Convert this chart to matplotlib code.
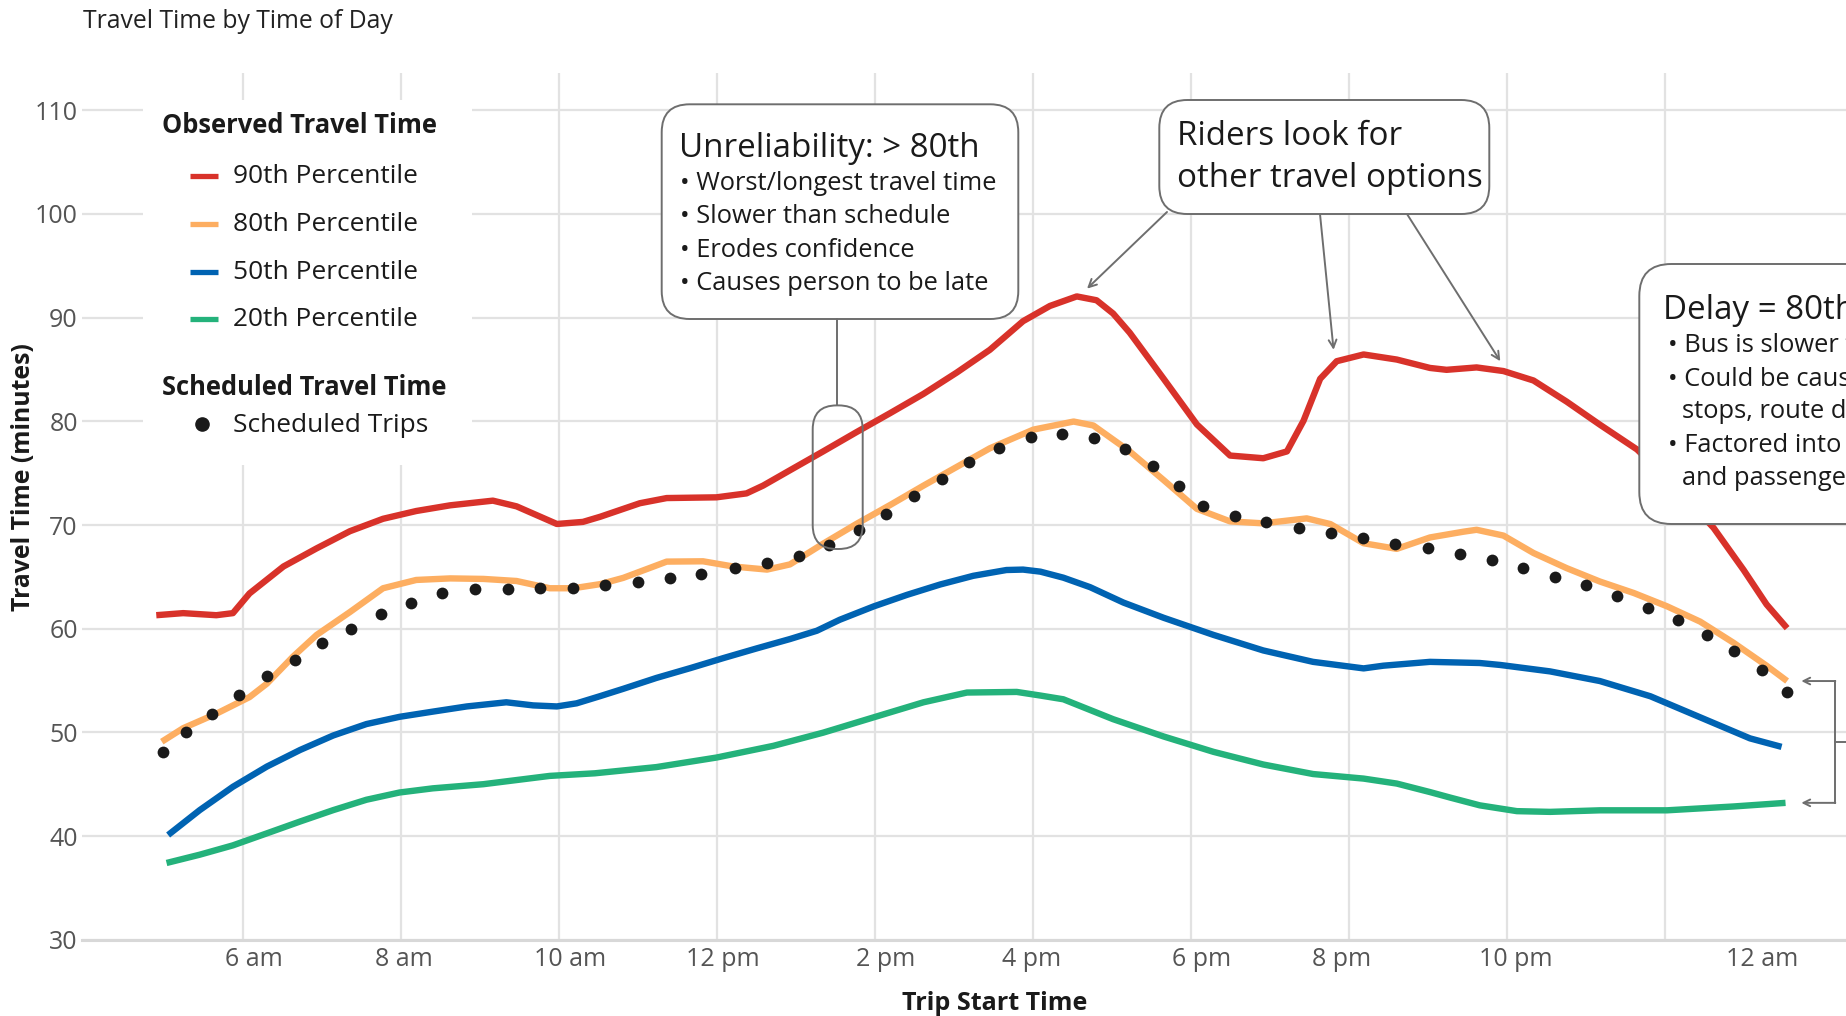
import matplotlib
matplotlib.use('Agg')
import matplotlib.pyplot as plt
from matplotlib.patches import FancyBboxPatch
from matplotlib.lines import Line2D
from matplotlib.transforms import IdentityTransform

plt.rcParams['font.family'] = ['Open Sans', 'DejaVu Sans']

# hours of the day (24 = midnight, 25 = 1 am), travel time in minutes
p90_hours = [4.90, 5.24, 5.66, 5.87, 6.08, 6.51, 6.93, 7.35, 7.77, 8.19, 8.62, 9.16, 9.46,
             9.97, 10.3, 10.52, 11.02, 11.36, 11.99, 12.37, 12.58, 12.92, 13.34, 13.76,
             14.19, 14.61, 15.03, 15.45, 15.87, 16.21, 16.55, 16.8, 17.01, 17.22, 17.65,
             18.07, 18.49, 18.91, 19.21, 19.42, 19.63, 19.84, 20.18, 20.6, 21.02, 21.23,
             21.61, 21.95, 22.33, 22.75, 23.17, 23.64, 24.1, 24.61, 24.99, 25.28, 25.54]
p90_minutes = [61.3, 61.5, 61.3, 61.5, 63.4, 66.0, 67.75, 69.4, 70.6, 71.35, 71.9, 72.35, 71.8,
               70.1, 70.3, 70.8, 72.1, 72.6, 72.67, 73.05, 73.8, 75.28, 77.1, 78.95,
               80.8, 82.65, 84.7, 86.9, 89.66, 91.13, 92.05, 91.68, 90.4, 88.55, 84.1,
               79.7, 76.7, 76.44, 77.1, 80.06, 84.1, 85.8, 86.45, 85.96, 85.15, 84.97,
               85.2, 84.85, 83.94, 81.9, 79.68, 77.29, 73.9, 69.72, 65.66, 62.34, 60.05]

p80_hours = [4.97, 5.24, 5.66, 6.08, 6.3, 6.63, 6.93, 7.35, 7.77, 8.19, 8.62, 9.04, 9.46,
             9.88, 10.18, 10.52, 10.81, 11.36, 11.82, 12.2, 12.63, 12.92, 13.34, 13.76,
             14.19, 14.61, 15.03, 15.45, 16.0, 16.51, 16.76, 17.22, 17.65, 18.07, 18.49,
             18.91, 19.46, 19.76, 20.18, 20.6, 21.02, 21.44, 21.61, 21.95, 22.33, 22.75,
             23.17, 23.6, 24.02, 24.44, 24.86, 25.28, 25.54]
p80_minutes = [49.1, 50.4, 51.8, 53.4, 54.7, 57.3, 59.4, 61.6, 63.9, 64.7, 64.85, 64.8, 64.6,
               63.9, 63.9, 64.3, 64.9, 66.47, 66.5, 66.0, 65.7, 66.2, 68.2, 70.1,
               71.94, 73.8, 75.6, 77.4, 79.2, 79.98, 79.6, 77.1, 74.33, 71.56, 70.35,
               70.16, 70.64, 70.09, 68.24, 67.7, 68.8, 69.35, 69.54, 68.98, 67.3, 65.84,
               64.55, 63.44, 62.16, 60.68, 58.65, 56.43, 54.95]

p50_hours = [5.05, 5.45, 5.87, 6.3, 6.72, 7.14, 7.56, 7.98, 8.4, 8.83, 9.33, 9.67, 9.97,
             10.22, 10.52, 10.81, 11.23, 11.66, 12.08, 12.5, 12.92, 13.26, 13.55, 13.98,
             14.4, 14.82, 15.24, 15.66, 15.87, 16.09, 16.38, 16.72, 17.14, 17.65, 18.28,
             18.91, 19.54, 20.18, 20.43, 21.02, 21.65, 21.91, 22.54, 23.17, 23.81, 24.44,
             25.07, 25.47]
p50_minutes = [40.1, 42.5, 44.75, 46.7, 48.3, 49.7, 50.8, 51.5, 52.0, 52.5, 52.9, 52.6, 52.5,
               52.8, 53.5, 54.2, 55.25, 56.2, 57.17, 58.1, 59.0, 59.8, 60.86, 62.15,
               63.26, 64.26, 65.1, 65.66, 65.7, 65.5, 64.92, 64.0, 62.52, 61.05, 59.4,
               57.9, 56.8, 56.17, 56.43, 56.8, 56.69, 56.5, 55.88, 54.95, 53.48, 51.45,
               49.42, 48.6]

p20_hours = [5.03, 5.45, 5.87, 6.3, 6.72, 7.14, 7.56, 7.98, 8.4, 9.04, 9.46, 9.88, 10.45,
             11.23, 11.99, 12.71, 13.34, 13.98, 14.61, 15.16, 15.79, 16.09, 16.38, 17.01,
             17.65, 18.28, 18.91, 19.54, 20.18, 20.6, 21.02, 21.28, 21.65, 22.12, 22.54,
             23.17, 24.02, 24.86, 25.52]
p20_minutes = [37.4, 38.2, 39.1, 40.26, 41.4, 42.5, 43.5, 44.2, 44.6, 45.0, 45.4, 45.8, 46.05,
               46.65, 47.57, 48.7, 49.97, 51.45, 52.9, 53.84, 53.9, 53.55, 53.19, 51.27,
               49.6, 48.12, 46.9, 45.98, 45.54, 45.06, 44.24, 43.7, 42.96, 42.4, 42.33,
               42.48, 42.48, 42.85, 43.2]

sched_hours = [4.98, 5.27, 5.61, 5.95, 6.3, 6.65, 7.0, 7.37, 7.75, 8.13, 8.52, 8.93, 9.35,
               9.76, 10.17, 10.58, 11.0, 11.4, 11.8, 12.22, 12.63, 13.03, 13.42, 13.79,
               14.14, 14.49, 14.84, 15.19, 15.57, 15.97, 16.36, 16.77, 17.16, 17.51, 17.84,
               18.15, 18.55, 18.95, 19.36, 19.77, 20.17, 20.58, 20.99, 21.4, 21.8, 22.2,
               22.6, 22.99, 23.39, 23.78, 24.16, 24.52, 24.87, 25.22, 25.54]
sched_minutes = [48.1, 50.0, 51.8, 53.6, 55.4, 57.0, 58.6, 60.0, 61.4, 62.5, 63.4, 63.8, 63.8,
                 63.9, 63.95, 64.2, 64.5, 64.9, 65.3, 65.85, 66.3, 67.0, 68.06, 69.5,
                 71.1, 72.8, 74.4, 76.05, 77.45, 78.5, 78.76, 78.39, 77.36, 75.7, 73.78,
                 71.82, 70.9, 70.28, 69.72, 69.24, 68.7, 68.17, 67.76, 67.17, 66.58, 65.84,
                 65.03, 64.18, 63.15, 62.04, 60.79, 59.39, 57.84, 55.99, 53.92]

grid_hours = [6, 8, 10, 12, 14, 16, 18, 20, 22, 24]
label_hours = [6.14, 8.03, 10.14, 12.07, 14.13, 15.98, 18.13, 19.9, 22.11, 25.22]
hour_labels = ['6 am', '8 am', '10 am', '12 pm', '2 pm', '4 pm', '6 pm', '8 pm', '10 pm', '12 am']
y_ticks = [30, 40, 50, 60, 70, 80, 90, 100, 110]

series_names = ['90th Percentile', '80th Percentile', '50th Percentile', '20th Percentile']
series_colors = ['#d8322a', '#fdae61', '#0063b2', '#24b27b']

W, H = 1846, 1016
GRID = '#e2e2e2'
EDGE = '#6e6e6e'
INK = '#1a1a1a'

fig = plt.figure(figsize=(W / 100, H / 100), dpi=100)
# axes run past the right edge of the canvas
ax = fig.add_axes([82 / W, (H - 939.7) / H, (1908 - 82) / W, (939.7 - 73) / H])
ax.set_xlim(3.96, 27.07)
ax.set_ylim(30, 113.6)

ax.set_xticks(label_hours)
ax.set_xticklabels(hour_labels)
ax.set_xticks(grid_hours, minor=True)
ax.set_yticks(y_ticks)
ax.grid(which='minor', axis='x', color=GRID, lw=1.6)
ax.grid(which='major', axis='y', color=GRID, lw=1.6)
ax.tick_params(which='both', length=0, labelsize=18, labelcolor='#555555')
ax.tick_params(axis='x', pad=5)
ax.tick_params(axis='y', pad=3)
for side in ['top', 'right', 'left']:
    ax.spines[side].set_visible(False)
ax.spines['bottom'].set_color('#d8d8d8')
ax.spines['bottom'].set_linewidth(2.2)
ax.set_axisbelow(True)

all_hours = [p90_hours, p80_hours, p50_hours, p20_hours]
all_minutes = [p90_minutes, p80_minutes, p50_minutes, p20_minutes]
for i in [3, 2, 1, 0]:
    z = 4 if i == 0 else 3
    ax.plot(all_hours[i], all_minutes[i], color=series_colors[i], lw=4.6,
            solid_capstyle='butt', solid_joinstyle='round', zorder=z)
ax.scatter(sched_hours, sched_minutes, s=72, color=INK, zorder=3.5, linewidths=0)

fig.text(995 / W, 1 - 1003 / H, 'Trip Start Time', fontsize=18.1, fontweight='bold', color=INK,
         ha='center', va='center')
fig.text(23.5 / W, 1 - 477 / H, 'Travel Time (minutes)', fontsize=17.8, fontweight='bold',
         color=INK, rotation=90, ha='center', va='center')


def put_text(x, y, s, size, weight='normal', color=INK):
    fig.text(x / W, 1 - y / H, s, fontsize=size, fontweight=weight, color=color,
             ha='left', va='baseline', zorder=5)


def rounded_box(x0, y0, x1, y1, radius, fill='white'):
    fig.add_artist(FancyBboxPatch((x0, H - y1), x1 - x0, y1 - y0,
                                  boxstyle=f'round,pad=0,rounding_size={radius}',
                                  transform=IdentityTransform(), facecolor=fill,
                                  edgecolor=EDGE, lw=1.4, zorder=4))


put_text(83, 28.3, 'Travel Time by Time of Day', 17.8, color='#222222')

# legend panel
fig.add_artist(FancyBboxPatch((143, H - 465), 329, 365, boxstyle='square,pad=0',
                              transform=IdentityTransform(), facecolor='white',
                              edgecolor='none', zorder=2))
put_text(161.7, 133.3, 'Observed Travel Time', 18.4, weight='bold')
for i, (name, color) in enumerate(zip(series_names, series_colors)):
    base = 183.3 + i * 47.6
    fig.add_artist(Line2D([190, 218], [H - base + 7, H - base + 7], color=color, lw=3.8,
                          solid_capstyle='butt', transform=IdentityTransform(), zorder=3))
    put_text(232.7, base, name, 18.9)
put_text(161.7, 395, 'Scheduled Travel Time', 18.4, weight='bold')
fig.add_artist(Line2D([201.7], [H - 424.3], marker='o', ms=9.5, color=INK, lw=0,
                      transform=IdentityTransform(), zorder=3))
put_text(232.7, 431.7, 'Scheduled Trips', 18.9)

# unreliability callout
rounded_box(661.7, 104.3, 1018.3, 319, 28)
put_text(679.3, 156.7, 'Unreliability: > 80th', 23.9)
for k, line in enumerate(['Worst/longest travel time', 'Slower than schedule',
                          'Erodes confidence', 'Causes person to be late']):
    put_text(680, 190 + k * 33.3, '\u2022 ' + line, 18.4)
fig.add_artist(Line2D([837, 837], [H - 319, H - 405.4], color=EDGE, lw=1.4,
                      transform=IdentityTransform(), zorder=4))
rounded_box(812.7, 405.4, 862.7, 549, 24, fill='none')

# riders callout with pointers onto the 90th percentile line
rounded_box(1159.3, 100, 1489.3, 214, 28)
put_text(1177.3, 145, 'Riders look for', 23.9)
put_text(1177.3, 186.7, 'other travel options', 23.9)
pointer_starts = [(1167, 212), (1320, 214), (1407, 214)]
pointer_tips = [(16.68, 92.8), (19.8, 86.9), (21.91, 85.8)]
for (sx, sy), tip in zip(pointer_starts, pointer_tips):
    ax.annotate('', xy=tip, xycoords='data', xytext=(sx, H - sy), textcoords='figure pixels',
                arrowprops=dict(arrowstyle='->', color=EDGE, lw=1.4, shrinkA=0, shrinkB=0,
                                mutation_scale=14), annotation_clip=False)

# delay callout, running off the right edge
rounded_box(1639.3, 264, 1960, 524, 32)
put_text(1663.3, 319.3, 'Delay = 80th \u2013 Schedule', 23.9)
put_text(1668, 352, '\u2022 Bus is slower than scheduled', 18.4)
put_text(1668, 385.5, '\u2022 Could be caused by traffic,', 18.4)
put_text(1681.7, 418, 'stops, route design', 18.4)
put_text(1668, 451.5, '\u2022 Factored into schedule', 18.4)
put_text(1681.7, 485, 'and passenger expectations', 18.4)

# bracket between the 80th and 20th percentile at the end of service
top_end = p80_minutes[-1]
low_end = p20_minutes[-1]
for y in [top_end, low_end]:
    ax.annotate('', xy=(25.72, y), xytext=(26.15, y),
                arrowprops=dict(arrowstyle='->', color=EDGE, lw=1.4, shrinkA=0, shrinkB=0,
                                mutation_scale=12), annotation_clip=False)
ax.plot([26.15, 26.15], [top_end, low_end], color=EDGE, lw=1.4, clip_on=False)
ax.plot([26.15, 27.5], [(top_end + low_end) / 2] * 2, color=EDGE, lw=1.4, clip_on=False)

fig.savefig('out.png', dpi=100)
